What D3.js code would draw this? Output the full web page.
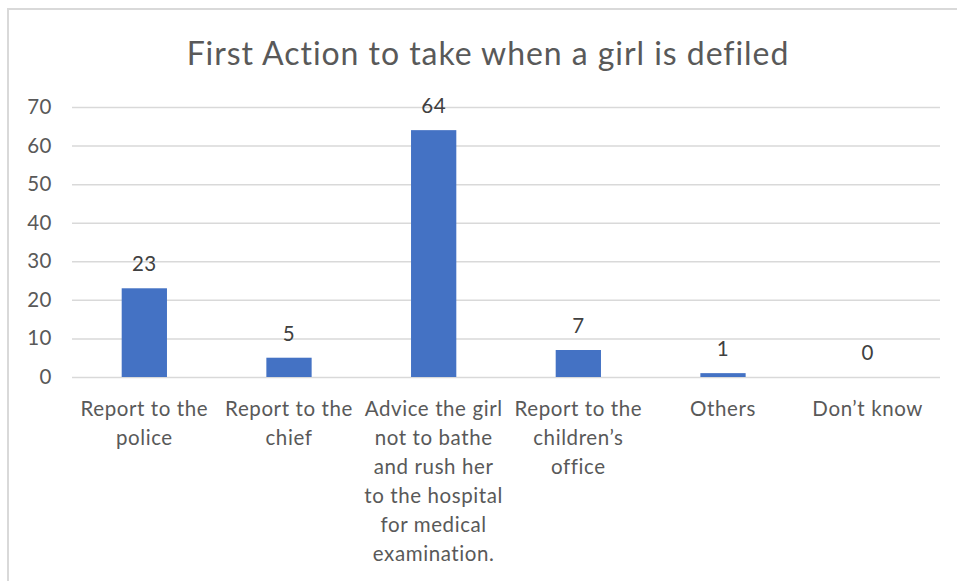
<!DOCTYPE html>
<html><head><meta charset="utf-8">
<script src="https://cdn.jsdelivr.net/npm/d3@7/dist/d3.min.js"></script>
<style>body{margin:0;background:#fff;}svg{display:block;}</style>
</head><body>
<script>
const categories = [
  ["Report to the","police"],
  ["Report to the","chief"],
  ["Advice the girl","not to bathe","and rush her","to the hospital","for medical","examination."],
  ["Report to the","children\u2019s","office"],
  ["Others"],
  ["Don\u2019t know"]
];
const values = [23, 5, 64, 7, 1, 0];
const yTicks = [0, 10, 20, 30, 40, 50, 60, 70];
const title = "First Action to take when a girl is defiled";

const W = 957, H = 581;
const font = "Lato, 'Liberation Sans', sans-serif";
const svg = d3.select("body").append("svg").attr("width", W).attr("height", H);
svg.append("rect").attr("width", W).attr("height", H).attr("fill", "#fff");
// frame
svg.append("line").attr("x1", 8).attr("x2", W).attr("y1", 9).attr("y2", 9).attr("stroke", "#d9d9d9").attr("stroke-width", 2);
svg.append("line").attr("x1", 8).attr("x2", 8).attr("y1", 8).attr("y2", H).attr("stroke", "#d9d9d9").attr("stroke-width", 2);

const x = d3.scaleBand().domain(d3.range(categories.length)).range([72, 940]).paddingInner(0.687).paddingOuter(0.3435);
const y = d3.scaleLinear().domain([0, 70]).range([377, 107]);

svg.append("text").attr("x", 488).attr("y", 65).attr("text-anchor", "middle")
  .attr("font-family", font).attr("font-size", 32).attr("letter-spacing", 0.95)
  .attr("fill", "#595959").text(title);

const yAxis = svg.append("g").attr("transform", "translate(72,0)")
  .call(d3.axisLeft(y).tickValues(yTicks).tickSize(-868).tickPadding(20));
yAxis.select(".domain").remove();
yAxis.selectAll(".tick line").attr("stroke", "#d9d9d9").attr("stroke-width", 1.5);
yAxis.selectAll(".tick text").attr("font-family", font).attr("font-size", 20.5)
  .attr("letter-spacing", 0.5).attr("fill", "#595959");

svg.append("g").selectAll("rect").data(values).join("rect")
  .attr("x", (d, i) => x(i)).attr("width", x.bandwidth())
  .attr("y", d => y(d)).attr("height", d => y(0) - y(d))
  .attr("fill", "#4472c4");

svg.append("g").selectAll("text").data(values).join("text")
  .attr("x", (d, i) => x(i) + x.bandwidth() / 2).attr("y", d => y(d) - 17)
  .attr("text-anchor", "middle").attr("font-family", font).attr("font-size", 20.5)
  .attr("letter-spacing", 0.5).attr("fill", "#404040")
  .text(d => d);

const labels = svg.append("g");
categories.forEach((lines, i) => {
  const t = labels.append("text").attr("text-anchor", "middle").attr("font-family", font)
    .attr("font-size", 20.5).attr("letter-spacing", 0.6).attr("fill", "#595959");
  lines.forEach((ln, j) => {
    t.append("tspan").attr("x", x(i) + x.bandwidth() / 2).attr("y", 416 + j * 29).text(ln);
  });
});
</script>
</body></html>
